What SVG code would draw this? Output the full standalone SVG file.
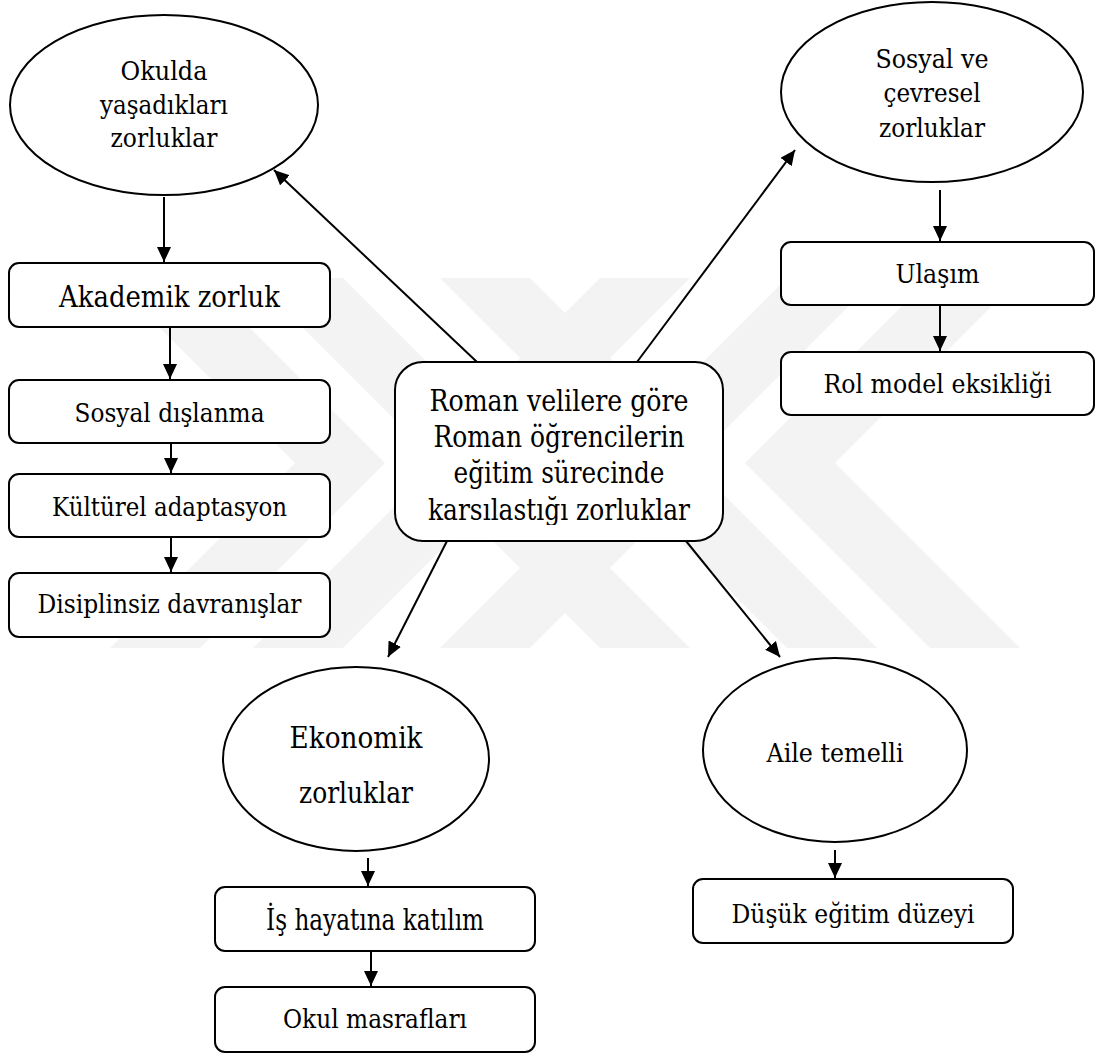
<svg xmlns="http://www.w3.org/2000/svg" width="1096" height="1057" viewBox="0 0 1096 1057">
<style>
.wm{fill:#f3f3f3;stroke:none}
.n{fill:#fff;stroke:#000;stroke-width:2}
.t{fill:#000;text-anchor:middle;font-family:"DejaVu Serif",serif}
.s11{font-size:26.5px}
.s12{font-size:29px}
.c{stroke:#000;stroke-width:2;fill:none;marker-end:url(#ah)}
</style>
<defs>
<marker id="ah" markerUnits="userSpaceOnUse" markerWidth="15" markerHeight="14" refX="15" refY="7" orient="auto">
<path d="M0,0 L15,7 L0,14 z" fill="#000"/>
</marker>
<clipPath id="cclip"><rect x="395" y="362" width="328" height="163"/></clipPath>
</defs>
<rect width="1096" height="1057" fill="#fff"/>
<g id="watermark">
<polygon class="wm" points="930,278 1020,278 835,463 1020,648 930,648 745,463"/>
<polygon class="wm" points="787,278 877,278 692,463 877,648 787,648 602,463"/>
<polygon class="wm" points="600,278 690,278 505,463 690,648 600,648 415,463"/>
<polygon class="wm" points="200,278 110,278 295,463 110,648 200,648 385,463"/>
<polygon class="wm" points="343,278 253,278 438,463 253,648 343,648 528,463"/>
<polygon class="wm" points="530,278 440,278 625,463 440,648 530,648 715,463"/>
</g>
<g id="connectors">
<line class="c" x1="477" y1="362" x2="274" y2="170"/>
<line class="c" x1="637" y1="362" x2="795" y2="150"/>
<line class="c" x1="447" y1="541" x2="388" y2="657"/>
<line class="c" x1="686" y1="541" x2="780" y2="657"/>
<line class="c" x1="164" y1="197" x2="164" y2="262"/>
<line class="c" x1="170" y1="328" x2="170" y2="379"/>
<line class="c" x1="171" y1="444" x2="171" y2="473"/>
<line class="c" x1="171" y1="538" x2="171" y2="572"/>
<line class="c" x1="940" y1="190" x2="940" y2="241"/>
<line class="c" x1="940" y1="306" x2="940" y2="351"/>
<line class="c" x1="368" y1="858" x2="368" y2="886"/>
<line class="c" x1="371" y1="952" x2="371" y2="986"/>
<line class="c" x1="835" y1="850" x2="835" y2="878"/>
</g>
<g id="center">
<rect class="n" x="395" y="362" width="328" height="179" rx="28"/>
<g clip-path="url(#cclip)">
<text class="t s12" x="559" y="411" textLength="259" lengthAdjust="spacingAndGlyphs">Roman velilere göre</text>
<text class="t s12" x="559" y="447" textLength="251" lengthAdjust="spacingAndGlyphs">Roman öğrencilerin</text>
<text class="t s12" x="559" y="483" textLength="211" lengthAdjust="spacingAndGlyphs">eğitim sürecinde</text>
<text class="t s12" x="559" y="520" textLength="262" lengthAdjust="spacingAndGlyphs">karsılastığı zorluklar</text>
</g>
</g>
<g id="okulda">
<ellipse class="n" cx="164" cy="105" rx="154" ry="90"/>
<text class="t s11" x="164" y="80" textLength="87" lengthAdjust="spacingAndGlyphs">Okulda</text>
<text class="t s11" x="164" y="114" textLength="128" lengthAdjust="spacingAndGlyphs">yaşadıkları</text>
<text class="t s11" x="164" y="147" textLength="107" lengthAdjust="spacingAndGlyphs">zorluklar</text>
</g>
<g id="sosyal-cevresel">
<ellipse class="n" cx="932" cy="92" rx="151" ry="90"/>
<text class="t s11" x="932" y="68" textLength="113" lengthAdjust="spacingAndGlyphs">Sosyal ve</text>
<text class="t s11" x="932" y="102" textLength="97" lengthAdjust="spacingAndGlyphs">çevresel</text>
<text class="t s11" x="932" y="137" textLength="106" lengthAdjust="spacingAndGlyphs">zorluklar</text>
</g>
<g id="ekonomik">
<ellipse class="n" cx="356" cy="759" rx="133" ry="92"/>
<text class="t s12" x="356" y="748" textLength="133" lengthAdjust="spacingAndGlyphs">Ekonomik</text>
<text class="t s12" x="356" y="803" textLength="114" lengthAdjust="spacingAndGlyphs">zorluklar</text>
</g>
<g id="aile">
<ellipse class="n" cx="835" cy="750" rx="132" ry="92"/>
<text class="t s11" x="835" y="762" textLength="137" lengthAdjust="spacingAndGlyphs">Aile temelli</text>
</g>
<g id="akademik">
<rect class="n" x="9" y="263" width="321" height="64" rx="10"/>
<text class="t s12" x="169.5" y="307" textLength="221" lengthAdjust="spacingAndGlyphs">Akademik zorluk</text>
</g>
<g id="sosyal-dislanma">
<rect class="n" x="9" y="380" width="321" height="63" rx="10"/>
<text class="t s11" x="169.5" y="422" textLength="190" lengthAdjust="spacingAndGlyphs">Sosyal dışlanma</text>
</g>
<g id="kulturel">
<rect class="n" x="9" y="474" width="321" height="63" rx="10"/>
<text class="t s11" x="169.5" y="516" textLength="235" lengthAdjust="spacingAndGlyphs">Kültürel adaptasyon</text>
</g>
<g id="disiplinsiz">
<rect class="n" x="9" y="573" width="321" height="64" rx="10"/>
<text class="t s11" x="169.5" y="613" textLength="264" lengthAdjust="spacingAndGlyphs">Disiplinsiz davranışlar</text>
</g>
<g id="ulasim">
<rect class="n" x="781" y="242" width="313" height="63" rx="10"/>
<text class="t s11" x="937.5" y="283" textLength="84" lengthAdjust="spacingAndGlyphs">Ulaşım</text>
</g>
<g id="rol-model">
<rect class="n" x="781" y="352" width="313" height="63" rx="10"/>
<text class="t s11" x="937.5" y="393" textLength="228" lengthAdjust="spacingAndGlyphs">Rol model eksikliği</text>
</g>
<g id="is-hayati">
<rect class="n" x="215" y="887" width="320" height="64" rx="10"/>
<text class="t s12" x="375" y="930" textLength="218" lengthAdjust="spacingAndGlyphs">İş hayatına katılım</text>
</g>
<g id="okul-masraflari">
<rect class="n" x="215" y="987" width="320" height="65" rx="10"/>
<text class="t s11" x="375" y="1028" textLength="184" lengthAdjust="spacingAndGlyphs">Okul masrafları</text>
</g>
<g id="dusuk-egitim">
<rect class="n" x="693" y="879" width="320" height="64" rx="10"/>
<text class="t s11" x="853" y="923" textLength="243" lengthAdjust="spacingAndGlyphs">Düşük eğitim düzeyi</text>
</g>
</svg>
